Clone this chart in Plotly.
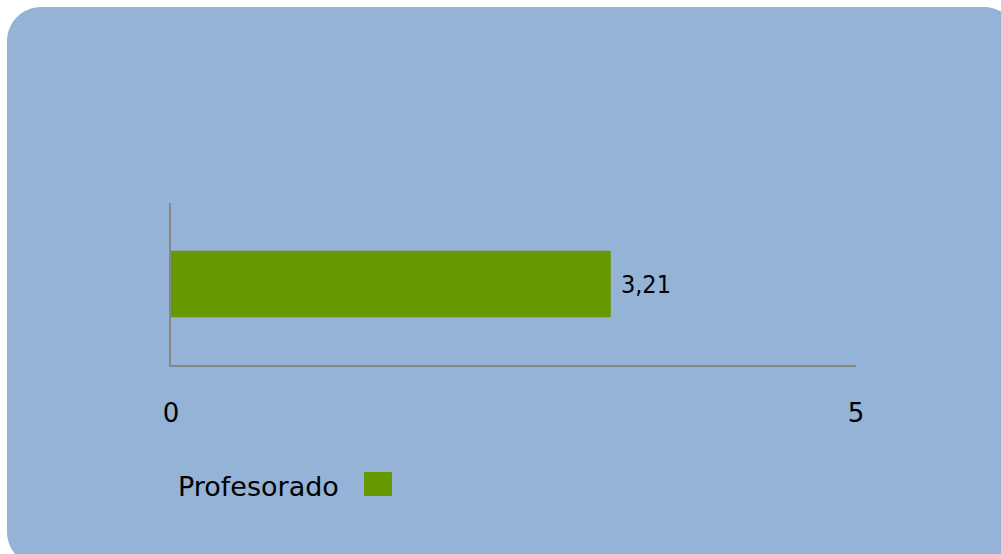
import plotly.graph_objects as go

categories = ["Profesorado"]
values = [3.21]
tick_vals = [0, 5]
tick_text = ["0", "5"]
series_name = "Profesorado"

W, H = 1001, 554
ML, MR, MT, MB = 171, 145, 203, 189
PW = W - ML - MR
PH = H - MT - MB

def px(x):
    return (x - ML) / PW

def py(y):
    return (H - MB - y) / PH

BG = "#95B3D7"
GREEN = "#669900"
AXIS = "#868686"
FONT = "DejaVu Sans"

fig = go.Figure()
fig.add_trace(go.Bar(
    x=values, y=categories, orientation="h", name=series_name,
    marker=dict(color=GREEN, line=dict(width=0)),
    text=values, texttemplate="\u00a0%{x:.2f}", textposition="outside",
    textfont=dict(family="DejaVu Sans Condensed", size=25, color="#000000"),
    constraintext="none",
    cliponaxis=False, showlegend=False,
))

# rounded background panel
l, t, r, b, rad = 7, 7, 1018, 566, 34
k = 0.45
path = (
    f"M {px(l+rad)},{py(t)} L {px(r-rad)},{py(t)} C {px(r-rad*k)},{py(t)} {px(r)},{py(t+rad*k)} {px(r)},{py(t+rad)} "
    f"L {px(r)},{py(b-rad)} C {px(r)},{py(b-rad*k)} {px(r-rad*k)},{py(b)} {px(r-rad)},{py(b)} "
    f"L {px(l+rad)},{py(b)} C {px(l+rad*k)},{py(b)} {px(l)},{py(b-rad*k)} {px(l)},{py(b-rad)} "
    f"L {px(l)},{py(t+rad)} C {px(l)},{py(t+rad*k)} {px(l+rad*k)},{py(t)} {px(l+rad)},{py(t)} Z"
)
shapes = [
    dict(type="path", path=path, xref="paper", yref="paper", fillcolor=BG,
         line=dict(width=0), layer="below"),
    # legend swatch
    dict(type="rect", xref="paper", yref="paper", x0=px(364), x1=px(392),
         y0=py(496), y1=py(472), fillcolor=GREEN, line=dict(width=0)),
]

annotations = [
    dict(text=series_name, xref="paper", yref="paper", x=px(176), y=py(486),
         xanchor="left", yanchor="middle", showarrow=False,
         font=dict(family=FONT, size=27, color="#000000")),
]

fig.update_layout(
    width=W, height=H,
    margin=dict(l=ML, r=MR, t=MT, b=MB, pad=0),
    paper_bgcolor="#FFFFFF", plot_bgcolor="rgba(0,0,0,0)",
    bargap=0.59,
    separators=",.",
    showlegend=False,
    shapes=shapes, annotations=annotations,
    font=dict(family=FONT, size=26, color="#000000"),
)
fig.update_xaxes(range=[0, 5], tickvals=tick_vals, ticktext=tick_text,
                 showline=True, linecolor=AXIS, linewidth=2, showgrid=False,
                 zeroline=False, ticks="", ticklabelstandoff=24,
                 tickfont=dict(family=FONT, size=26, color="#000000"))
fig.update_yaxes(showline=True, linecolor=AXIS, linewidth=2, showgrid=False,
                 zeroline=False, showticklabels=False, ticks="")

fig.write_html(
    "out.html",
    config={"displayModeBar": False},
    post_script="document.body.style.margin='0';document.body.style.overflow='hidden';",
)
